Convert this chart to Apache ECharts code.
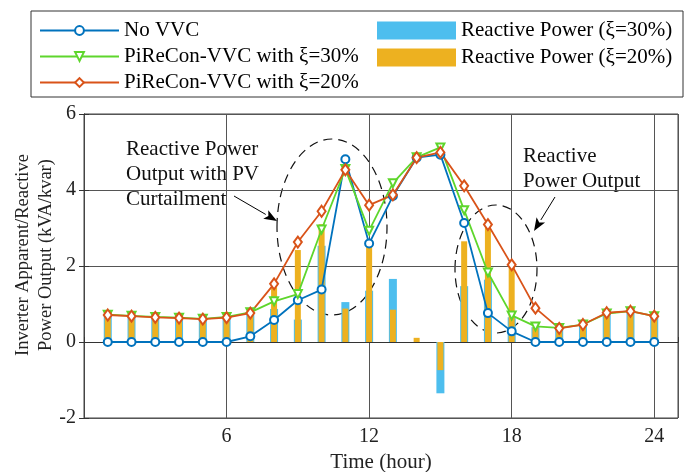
<!DOCTYPE html>
<html>
<head>
<meta charset="utf-8">
<script src="https://cdn.jsdelivr.net/npm/echarts@6/dist/echarts.min.js"></script>
<style>
html, body { margin: 0; padding: 0; background: #fff; }
#main { width: 688px; height: 472px; }
</style>
</head>
<body>
<div id="main"></div>
<script>
// hours of the day
var hours = [1, 2, 3, 4, 5, 6, 7, 8, 9, 10, 11, 12, 13, 14, 15, 16, 17, 18, 19, 20, 21, 22, 23, 24];
// inverter apparent power (kVA)
var noVVC     = [0, 0, 0, 0, 0, 0, 0.15, 0.58, 1.1, 1.38, 4.81, 2.59, 3.84, 4.85, 4.93, 3.13, 0.76, 0.28, 0, 0, 0, 0, 0, 0];
var pirecon30 = [0.72, 0.69, 0.66, 0.64, 0.61, 0.66, 0.78, 1.07, 1.26, 2.96, 4.55, 2.93, 4.18, 4.86, 5.12, 3.47, 1.83, 0.7, 0.41, 0.37, 0.46, 0.75, 0.81, 0.68];
var pirecon20 = [0.71, 0.68, 0.65, 0.63, 0.6, 0.64, 0.76, 1.53, 2.63, 3.44, 4.53, 3.6, 3.87, 4.85, 4.99, 4.11, 3.09, 2.03, 0.89, 0.36, 0.46, 0.77, 0.81, 0.68];
// reactive power (kvar)
var reactive30 = [0.72, 0.69, 0.66, 0.64, 0.61, 0.66, 0.72, 0.87, 0.59, 2.53, 1.05, 1.35, 1.66, 0, -1.35, 1.47, 1.64, 0.65, 0.39, 0.36, 0.45, 0.74, 0.8, 0.67];
var reactive20 = [0.71, 0.68, 0.65, 0.63, 0.6, 0.64, 0.72, 1.44, 2.42, 3.1, 0.88, 2.52, 0.85, 0.11, -0.74, 2.65, 3.03, 1.97, 0.39, 0.36, 0.45, 0.74, 0.8, 0.67];
var xTicks = [6, 12, 18, 24];

var FONT = 'Liberation Serif';

function pairs(ys) {
    return hours.map(function (h, i) { return [h, ys[i]]; });
}

// small arrow: line + filled head
function arrow(x1, y1, x2, y2) {
    var a = Math.atan2(y2 - y1, x2 - x1);
    var len = 13, w = 5;
    var bx = x2 - len * Math.cos(a), by = y2 - len * Math.sin(a);
    var nx = -Math.sin(a) * w, ny = Math.cos(a) * w;
    return [
        { type: 'polyline', silent: true, shape: { points: [[x1, y1], [bx, by]] }, style: { stroke: '#000', lineWidth: 1 } },
        { type: 'polygon', silent: true, shape: { points: [[x2, y2], [bx + nx, by + ny], [bx + 3 * Math.cos(a), by + 3 * Math.sin(a)], [bx - nx, by - ny]] }, style: { fill: '#000' } }
    ];
}

var chart = echarts.init(document.getElementById('main'), null, { renderer: 'canvas' });

var lineCommon = {
    type: 'line',
    xAxisIndex: 0,
    symbolSize: 8,
    lineStyle: { width: 1.8 },
    itemStyle: { borderWidth: 1.3 },
    emphasis: { disabled: true },
    animation: false
};

var option = {
    backgroundColor: '#fff',
    animation: false,
    textStyle: { fontFamily: FONT },
    grid: {
        left: 84, right: 10, top: 114, bottom: 54,
        outerBoundsMode: 'none', containLabel: false,
        show: true, borderColor: '#444', borderWidth: 1
    },
    legend: [
        {
            left: 34, top: 15, orient: 'vertical',
            itemWidth: 79, itemHeight: 11, itemGap: 5,
            textStyle: { fontFamily: FONT, fontSize: 21, color: '#000' },
            data: ['No VVC', 'PiReCon-VVC with \u03be=30%', 'PiReCon-VVC with \u03be=20%']
        },
        {
            left: 372, top: 15, orient: 'vertical', icon: 'rect',
            itemWidth: 79, itemHeight: 18, itemGap: 6,
            textStyle: { fontFamily: FONT, fontSize: 21, color: '#000' },
            data: ['Reactive Power (\u03be=30%)', 'Reactive Power (\u03be=20%)']
        }
    ],
    xAxis: [
        {
            type: 'value', min: 0, max: 25, interval: 6,
            name: 'Time (hour)', nameLocation: 'middle', nameGap: 29,
            nameTextStyle: { fontFamily: FONT, fontSize: 21, color: '#222' },
            axisLine: { lineStyle: { color: '#333' } },
            axisTick: { inside: true, length: 5, lineStyle: { color: '#333' } },
            axisLabel: {
                fontFamily: FONT, fontSize: 20, color: '#222', margin: 9,
                formatter: function (v) { return xTicks.indexOf(v) >= 0 ? String(v) : ''; }
            },
            splitLine: { show: true, lineStyle: { color: '#555', width: 1 } }
        },
        { type: 'value', min: 0, max: 25, show: false }
    ],
    yAxis: [
        {
            type: 'value', min: -2, max: 6, interval: 2,
            axisLine: { show: true, lineStyle: { color: '#333' } },
            axisTick: { show: true, inside: true, length: 5, lineStyle: { color: '#333' } },
            axisLabel: { fontFamily: FONT, fontSize: 20, color: '#222', margin: 8 },
            splitLine: { show: true, lineStyle: { color: '#555', width: 1 } }
        },
        {
            type: 'value', min: -2, max: 6, interval: 2, position: 'right',
            axisLine: { show: true, lineStyle: { color: '#444' } },
            axisTick: { show: true, inside: true, length: 5, lineStyle: { color: '#333' } },
            axisLabel: { show: false },
            splitLine: { show: false }
        }
    ],
    series: [
        {
            name: 'Reactive Power (\u03be=30%)', type: 'bar', xAxisIndex: 1,
            barWidth: 8, itemStyle: { color: '#4DBEEE' },
            emphasis: { disabled: true },
            data: pairs(reactive30)
        },
        {
            name: 'Reactive Power (\u03be=20%)', type: 'bar', xAxisIndex: 0,
            barWidth: 6, itemStyle: { color: '#EDB120' },
            emphasis: { disabled: true },
            data: pairs(reactive20)
        },
        Object.assign({}, lineCommon, {
            name: 'No VVC', symbol: 'emptyCircle',
            color: '#0072BD',
            data: pairs(noVVC)
        }),
        Object.assign({}, lineCommon, {
            name: 'PiReCon-VVC with \u03be=30%', symbol: 'emptyTriangle', symbolRotate: 180,
            color: '#5ED62C',
            data: pairs(pirecon30)
        }),
        Object.assign({}, lineCommon, {
            name: 'PiReCon-VVC with \u03be=20%', symbol: 'emptyDiamond', symbolSize: [8, 11],
            color: '#D95319',
            data: pairs(pirecon20)
        })
    ],
    graphic: [
        {
            type: 'rect', silent: true, z: -1,
            shape: { x: 31, y: 11, width: 652, height: 86 },
            style: { fill: null, stroke: '#333', lineWidth: 1 }
        },
        // y axis title
        {
            type: 'text', silent: true, x: 35, y: 255, rotation: Math.PI / 2,
            style: {
                text: 'Inverter Apparent/Reactive\nPower Output (kVA/kvar)',
                font: '18.5px "Liberation Serif"', lineHeight: 23, fill: '#222',
                align: 'center', verticalAlign: 'middle'
            }
        },
        {
            type: 'ellipse', silent: true,
            shape: { cx: 332, cy: 227, rx: 55, ry: 88 },
            style: { fill: null, stroke: '#111', lineWidth: 1.2, lineDash: [9, 6] }
        },
        {
            type: 'ellipse', silent: true,
            shape: { cx: 496, cy: 269, rx: 41, ry: 64 },
            style: { fill: null, stroke: '#111', lineWidth: 1.2, lineDash: [9, 6] }
        },
        {
            type: 'text', silent: true, left: 126, top: 137,
            style: { text: 'Reactive Power\nOutput with PV\nCurtailment', font: '21px "Liberation Serif"', lineHeight: 25, fill: '#111' }
        },
        {
            type: 'text', silent: true, left: 523, top: 144,
            style: { text: 'Reactive\nPower Output', font: '21px "Liberation Serif"', lineHeight: 25, fill: '#111' }
        }
    ].concat(arrow(234, 196, 277, 221), arrow(555, 197, 534, 231))
};

chart.setOption(option);
</script>
</body>
</html>
